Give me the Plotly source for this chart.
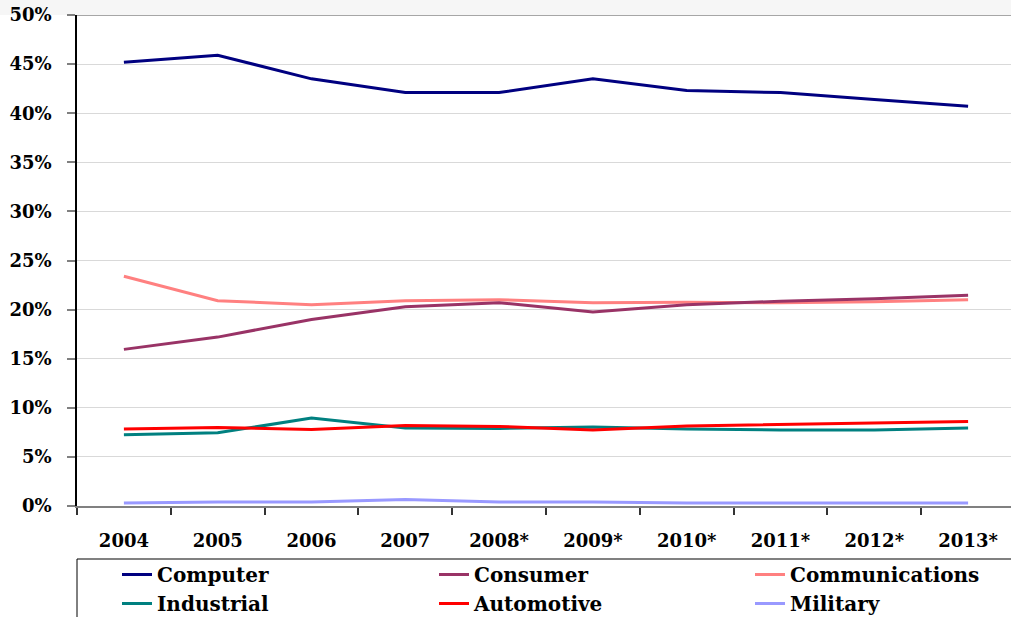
import plotly.graph_objects as go

# Market share by application segment, 2004-2013 (* = forecast)
years = ["2004", "2005", "2006", "2007", "2008*", "2009*", "2010*", "2011*", "2012*", "2013*"]

computer = [45.2, 45.9, 43.5, 42.1, 42.1, 43.5, 42.3, 42.1, 41.4, 40.7]
consumer = [15.95, 17.2, 19.0, 20.3, 20.7, 19.75, 20.5, 20.85, 21.1, 21.45]
communications = [23.4, 20.9, 20.5, 20.9, 21.0, 20.7, 20.75, 20.7, 20.8, 21.0]
industrial = [7.25, 7.45, 8.95, 7.95, 7.9, 8.05, 7.85, 7.75, 7.75, 7.95]
automotive = [7.85, 8.0, 7.8, 8.2, 8.1, 7.75, 8.15, 8.3, 8.5, 8.6]
military = [0.3, 0.4, 0.4, 0.65, 0.4, 0.4, 0.3, 0.3, 0.3, 0.3]

# name, values, colour, legend column, row within column
series = [
    ("Computer", computer, "#000080", "legend", 1),
    ("Industrial", industrial, "#008080", "legend", 2),
    ("Consumer", consumer, "#993366", "legend2", 1),
    ("Automotive", automotive, "#ff0000", "legend2", 2),
    ("Communications", communications, "#ff8080", "legend3", 1),
    ("Military", military, "#9999ff", "legend3", 2),
]

FONT = "DejaVu Serif"

fig = go.Figure()
# draw order: back to front
draw_order = ["Military", "Industrial", "Automotive", "Communications", "Consumer", "Computer"]
lookup = {s[0]: s for s in series}
for name in draw_order:
    n, vals, color, lg, rank = lookup[name]
    fig.add_trace(go.Scatter(
        x=years, y=vals, name=n, mode="lines",
        line=dict(color=color, width=3),
        legend=lg, legendrank=rank,
    ))

W, H = 1011, 617
L, R, T, B = 77, 0, 15, 111
plot_w = W - L - R
plot_h = H - T - B
cat_px = 93.8


def px_x(p):
    return (p - L) / plot_w


def px_y(p):
    return (H - B - p) / plot_h


legend_common = dict(
    orientation="v", yanchor="top", xanchor="left",
    bgcolor="rgba(0,0,0,0)", borderwidth=0,
    font=dict(family=FONT, size=20, color="#000000", weight="bold"),
    tracegroupgap=0, itemwidth=30, traceorder="normal",
)

fig.update_layout(
    width=W, height=H,
    margin=dict(l=L, r=R, t=T, b=B, autoexpand=False),
    paper_bgcolor="#ffffff",
    plot_bgcolor="#ffffff",
    font=dict(family=FONT, size=18, color="#000000"),
    xaxis=dict(
        type="category",
        range=[-0.5, -0.5 + plot_w / cat_px],
        tickson="boundaries",
        ticks="outside", ticklen=7, tickwidth=1.5, tickcolor="#333333",
        showline=True, linecolor="#808080", linewidth=2,
        showgrid=False, zeroline=False,
        tickfont=dict(family=FONT, size=18, color="#000000", weight="bold"),
        ticklabelstandoff=17,
        automargin=False,
        fixedrange=True,
    ),
    yaxis=dict(
        range=[0, 50], dtick=5, ticksuffix="%",
        ticks="outside", ticklen=8, tickwidth=2, tickcolor="#808080",
        showline=True, linecolor="#000000", linewidth=1.5,
        showgrid=True, gridcolor="#d9d9d9", gridwidth=1,
        zeroline=False,
        tickfont=dict(family=FONT, size=18, color="#000000", weight="bold"),
        ticklabelstandoff=12,
        automargin=False,
        fixedrange=True,
    ),
    legend=dict(x=px_x(117), y=px_y(555), **legend_common),
    legend2=dict(x=px_x(434), y=px_y(555), **legend_common),
    legend3=dict(x=px_x(750), y=px_y(555), **legend_common),
    shapes=[
        # light band above the plot area
        dict(type="rect", xref="paper", yref="paper", x0=-0.2, x1=1.1,
             y0=1, y1=px_y(-5), fillcolor="#f6f6f6", line=dict(width=0), layer="below"),
        # heavier top border of the plot area
        dict(type="line", xref="paper", yref="y", x0=0, x1=1.05, y0=50, y1=50,
             line=dict(color="#a6a6a6", width=2)),
        # legend frame: top and left edges
        dict(type="line", xref="paper", yref="paper", x0=0, x1=1.05,
             y0=px_y(559), y1=px_y(559), line=dict(color="#808080", width=2)),
        dict(type="line", xref="paper", yref="paper", x0=0, x1=0,
             y0=px_y(559), y1=px_y(640), line=dict(color="#000000", width=1)),
    ],
)

fig.write_html("out.html")
